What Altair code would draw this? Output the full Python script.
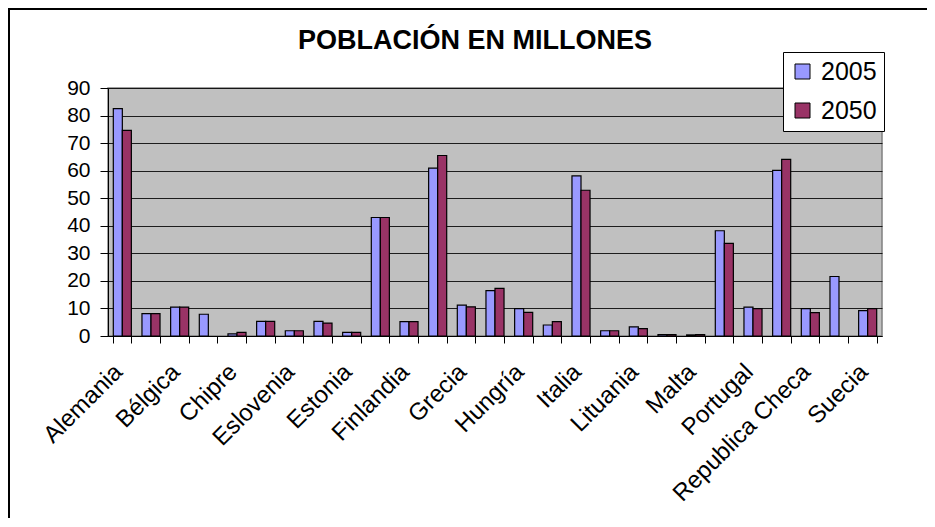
import altair as alt
import pandas as pd

title_text = "POBLACIÓN EN MILLONES"
countries = ["Alemania", "Austria", "Bélgica", "Bulgaria", "Chipre", "Dinamarca",
             "Eslovenia", "Eslovaquia", "Estonia", "España", "Finlandia", "Francia",
             "Grecia", "Holanda", "Hungría", "Irlanda", "Italia", "Letonia",
             "Lituania", "Luxemburgo", "Malta", "Polonia", "Portugal", "Reino Unido",
             "Republica Checa", "Rumanía", "Suecia"]
pop_2005 = [82.5, 8.1, 10.5, 7.9, 0.8, 5.3, 1.9, 5.3, 1.3, 43.0, 5.2, 60.9,
            11.2, 16.5, 9.9, 4.0, 58.1, 1.9, 3.3, 0.5, 0.4, 38.2, 10.5, 60.1,
            9.9, 21.6, 9.2]
pop_2050 = [74.6, 8.1, 10.5, None, 1.3, 5.3, 1.9, 4.7, 1.3, 43.0, 5.2, 65.5,
            10.6, 17.3, 8.6, 5.2, 52.9, 1.9, 2.7, 0.5, 0.5, 33.6, 9.9, 64.1,
            8.5, None, 9.9]
shown_labels = ["Alemania", "Bélgica", "Chipre", "Eslovenia", "Estonia", "Finlandia",
                "Grecia", "Hungría", "Italia", "Lituania", "Malta", "Portugal",
                "Republica Checa", "Suecia"]
series = ["2005", "2050"]
colors = ["#9999FF", "#993366"]
y_ticks = [0, 10, 20, 30, 40, 50, 60, 70, 80, 90]

rows = []
for c, a, b in zip(countries, pop_2005, pop_2050):
    if a is not None:
        rows.append({"country": c, "year": "2005", "pop": a})
    if b is not None:
        rows.append({"country": c, "year": "2050", "pop": b})
df = pd.DataFrame(rows)

FONT = "Liberation Sans"
label_list = ",".join("'" + s + "'" for s in shown_labels)
label_expr = f"indexof([{label_list}], datum.value) >= 0 ? datum.value : ''"

bars = alt.Chart(df).mark_bar(stroke="black", strokeWidth=1.2).encode(
    x=alt.X("country:N", sort=countries,
            scale=alt.Scale(paddingInner=0.37, paddingOuter=0.185),
            axis=alt.Axis(title=None, labelAngle=-45, labelAlign="right",
                          labelBaseline="middle", labelExpr=label_expr,
                          tickBand="extent", tickSize=7, labelPadding=25,
                          labelOffset=-4, labelFontSize=24, labelFont=FONT,
                          labelColor="black", domainColor="black",
                          tickColor="black", grid=False, labelOverlap=False,
                          labelLimit=0)),
    xOffset=alt.XOffset("year:N", sort=series,
                        scale=alt.Scale(paddingInner=0, paddingOuter=0)),
    y=alt.Y("pop:Q", scale=alt.Scale(domain=[0, 90], nice=False),
            axis=alt.Axis(title=None, values=y_ticks, tickSize=8, labelPadding=10,
                          labelFontSize=21, labelFont=FONT, labelColor="black",
                          domainColor="black", tickColor="black", grid=True,
                          gridColor="black", gridOpacity=0.85)),
    color=alt.Color("year:N",
                    scale=alt.Scale(domain=series, range=colors),
                    legend=alt.Legend(title=None, orient="none", legendX=675,
                                      legendY=-36, fillColor="white",
                                      strokeColor="black", padding=7,
                                      symbolType="square", symbolSize=225,
                                      symbolStrokeColor="black",
                                      symbolStrokeWidth=1, symbolOpacity=1,
                                      labelFontSize=25, labelFont=FONT,
                                      labelColor="black", rowPadding=13,
                                      labelOffset=6)),
)

title_layer = alt.Chart(pd.DataFrame({"t": [title_text]})).mark_text(
    font=FONT, fontSize=27, fontWeight="bold", align="center",
    baseline="alphabetic", color="black"
).encode(x=alt.value(367), y=alt.value(-39), text="t:N")

border = alt.Chart(pd.DataFrame({"k": [0]})).mark_rect(
    fill="transparent", stroke="black", strokeWidth=2, clip=False
).encode(x=alt.value(-99), y=alt.value(-79), x2=alt.value(1200), y2=alt.value(800))

chart = alt.layer(bars, title_layer, border).properties(
    width=774, height=248,
    padding={"left": 100, "top": 80, "right": 45, "bottom": 182},
    autosize=alt.AutoSizeParams(type="none"),
).configure(
    background="white"
).configure_view(
    fill="#C0C0C0", stroke="#808080", strokeWidth=1.5
)

chart.save("out.html", embed_options={"renderer": "svg", "actions": False})
